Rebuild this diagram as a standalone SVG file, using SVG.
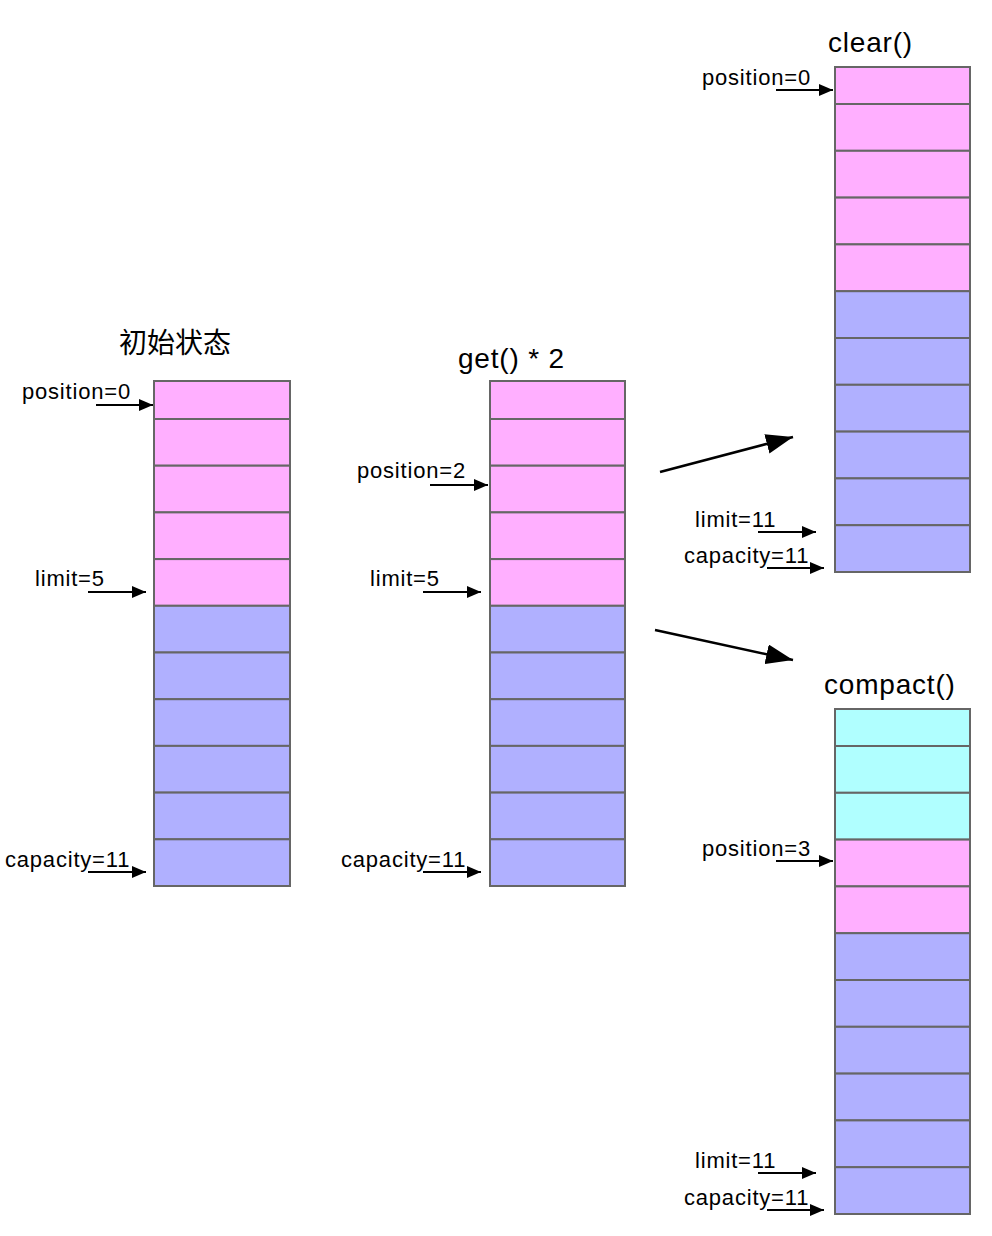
<svg xmlns="http://www.w3.org/2000/svg" width="992" height="1236" viewBox="0 0 992 1236">
<defs>
<marker id="sa" markerUnits="userSpaceOnUse" markerWidth="14" markerHeight="12" refX="14" refY="6" orient="auto"><path d="M0,0 L14,6 L0,12 z" fill="#000"/></marker>
<marker id="ba" markerUnits="userSpaceOnUse" markerWidth="27" markerHeight="20" refX="27" refY="10" orient="auto"><path d="M0,0 L27,10 L0,20 z" fill="#000"/></marker>
</defs>
<style>
.p{fill:#ffafff;stroke:#666;stroke-width:2}
.b{fill:#b0b0ff;stroke:#666;stroke-width:2}
.c{fill:#b0ffff;stroke:#666;stroke-width:2}
.lb{font-family:"Liberation Sans",Arial,sans-serif;font-size:22px;letter-spacing:0.8px;fill:#000}
.tt{font-family:"Liberation Sans","Noto Sans CJK SC",sans-serif;font-size:28px;letter-spacing:0.8px;fill:#000}
.cj{font-family:"Noto Sans CJK SC",sans-serif;font-size:28px;fill:#000}
.ar{stroke:#000;stroke-width:2;fill:none;marker-end:url(#sa)}
.br{stroke:#000;stroke-width:2.5;fill:none;marker-end:url(#ba)}
</style>
<rect width="992" height="1236" fill="#fff"/>
<g id="initial">
<text class="cj" x="119" y="353">初始状态</text>
<rect class="p" x="154" y="381" width="136" height="38"/>
<rect class="p" x="154" y="419" width="136" height="46.7"/>
<rect class="p" x="154" y="465.7" width="136" height="46.7"/>
<rect class="p" x="154" y="512.4" width="136" height="46.7"/>
<rect class="p" x="154" y="559.1" width="136" height="46.7"/>
<rect class="b" x="154" y="605.8" width="136" height="46.7"/>
<rect class="b" x="154" y="652.5" width="136" height="46.7"/>
<rect class="b" x="154" y="699.2" width="136" height="46.7"/>
<rect class="b" x="154" y="745.9" width="136" height="46.7"/>
<rect class="b" x="154" y="792.6" width="136" height="46.7"/>
<rect class="b" x="154" y="839.3" width="136" height="46.7"/>
<text class="lb" x="22" y="399">position=0</text>
<text class="lb" x="35" y="586">limit=5</text>
<text class="lb" x="5" y="867">capacity=11</text>
</g>
<g id="get2">
<text class="tt" x="458" y="368">get() * 2</text>
<rect class="p" x="490" y="381" width="135" height="38"/>
<rect class="p" x="490" y="419" width="135" height="46.7"/>
<rect class="p" x="490" y="465.7" width="135" height="46.7"/>
<rect class="p" x="490" y="512.4" width="135" height="46.7"/>
<rect class="p" x="490" y="559.1" width="135" height="46.7"/>
<rect class="b" x="490" y="605.8" width="135" height="46.7"/>
<rect class="b" x="490" y="652.5" width="135" height="46.7"/>
<rect class="b" x="490" y="699.2" width="135" height="46.7"/>
<rect class="b" x="490" y="745.9" width="135" height="46.7"/>
<rect class="b" x="490" y="792.6" width="135" height="46.7"/>
<rect class="b" x="490" y="839.3" width="135" height="46.7"/>
<text class="lb" x="357" y="478">position=2</text>
<text class="lb" x="370" y="586">limit=5</text>
<text class="lb" x="341" y="867">capacity=11</text>
</g>
<g id="clear">
<text class="tt" x="828" y="52">clear()</text>
<rect class="p" x="835" y="67" width="135" height="37"/>
<rect class="p" x="835" y="104" width="135" height="46.8"/>
<rect class="p" x="835" y="150.8" width="135" height="46.8"/>
<rect class="p" x="835" y="197.6" width="135" height="46.8"/>
<rect class="p" x="835" y="244.4" width="135" height="46.8"/>
<rect class="b" x="835" y="291.2" width="135" height="46.8"/>
<rect class="b" x="835" y="338" width="135" height="46.8"/>
<rect class="b" x="835" y="384.8" width="135" height="46.8"/>
<rect class="b" x="835" y="431.6" width="135" height="46.8"/>
<rect class="b" x="835" y="478.4" width="135" height="46.8"/>
<rect class="b" x="835" y="525.2" width="135" height="46.8"/>
<text class="lb" x="702" y="85">position=0</text>
<text class="lb" x="695" y="527">limit=11</text>
<text class="lb" x="684" y="563">capacity=11</text>
</g>
<g id="compact">
<text class="tt" x="824" y="694">compact()</text>
<rect class="c" x="835" y="709" width="135" height="37"/>
<rect class="c" x="835" y="746" width="135" height="46.8"/>
<rect class="c" x="835" y="792.8" width="135" height="46.8"/>
<rect class="p" x="835" y="839.6" width="135" height="46.8"/>
<rect class="p" x="835" y="886.4" width="135" height="46.8"/>
<rect class="b" x="835" y="933.2" width="135" height="46.8"/>
<rect class="b" x="835" y="980" width="135" height="46.8"/>
<rect class="b" x="835" y="1026.8" width="135" height="46.8"/>
<rect class="b" x="835" y="1073.6" width="135" height="46.8"/>
<rect class="b" x="835" y="1120.4" width="135" height="46.8"/>
<rect class="b" x="835" y="1167.2" width="135" height="46.8"/>
<text class="lb" x="702" y="856">position=3</text>
<text class="lb" x="695" y="1168">limit=11</text>
<text class="lb" x="684" y="1205">capacity=11</text>
</g>
<g id="connectors">
<line class="ar" x1="96" y1="405" x2="153" y2="405"/>
<line class="ar" x1="88" y1="592" x2="146" y2="592"/>
<line class="ar" x1="88" y1="872" x2="146" y2="872"/>
<line class="ar" x1="430" y1="485" x2="488" y2="485"/>
<line class="ar" x1="423" y1="592" x2="481" y2="592"/>
<line class="ar" x1="423" y1="872" x2="481" y2="872"/>
<line class="ar" x1="776" y1="90" x2="833" y2="90"/>
<line class="ar" x1="758" y1="532" x2="816" y2="532"/>
<line class="ar" x1="767" y1="568" x2="824" y2="568"/>
<line class="ar" x1="776" y1="861" x2="833" y2="861"/>
<line class="ar" x1="758" y1="1173" x2="816" y2="1173"/>
<line class="ar" x1="767" y1="1210" x2="824" y2="1210"/>
<line class="br" x1="660" y1="472" x2="793" y2="437"/>
<line class="br" x1="655" y1="630" x2="793" y2="660"/>
</g>
</svg>
